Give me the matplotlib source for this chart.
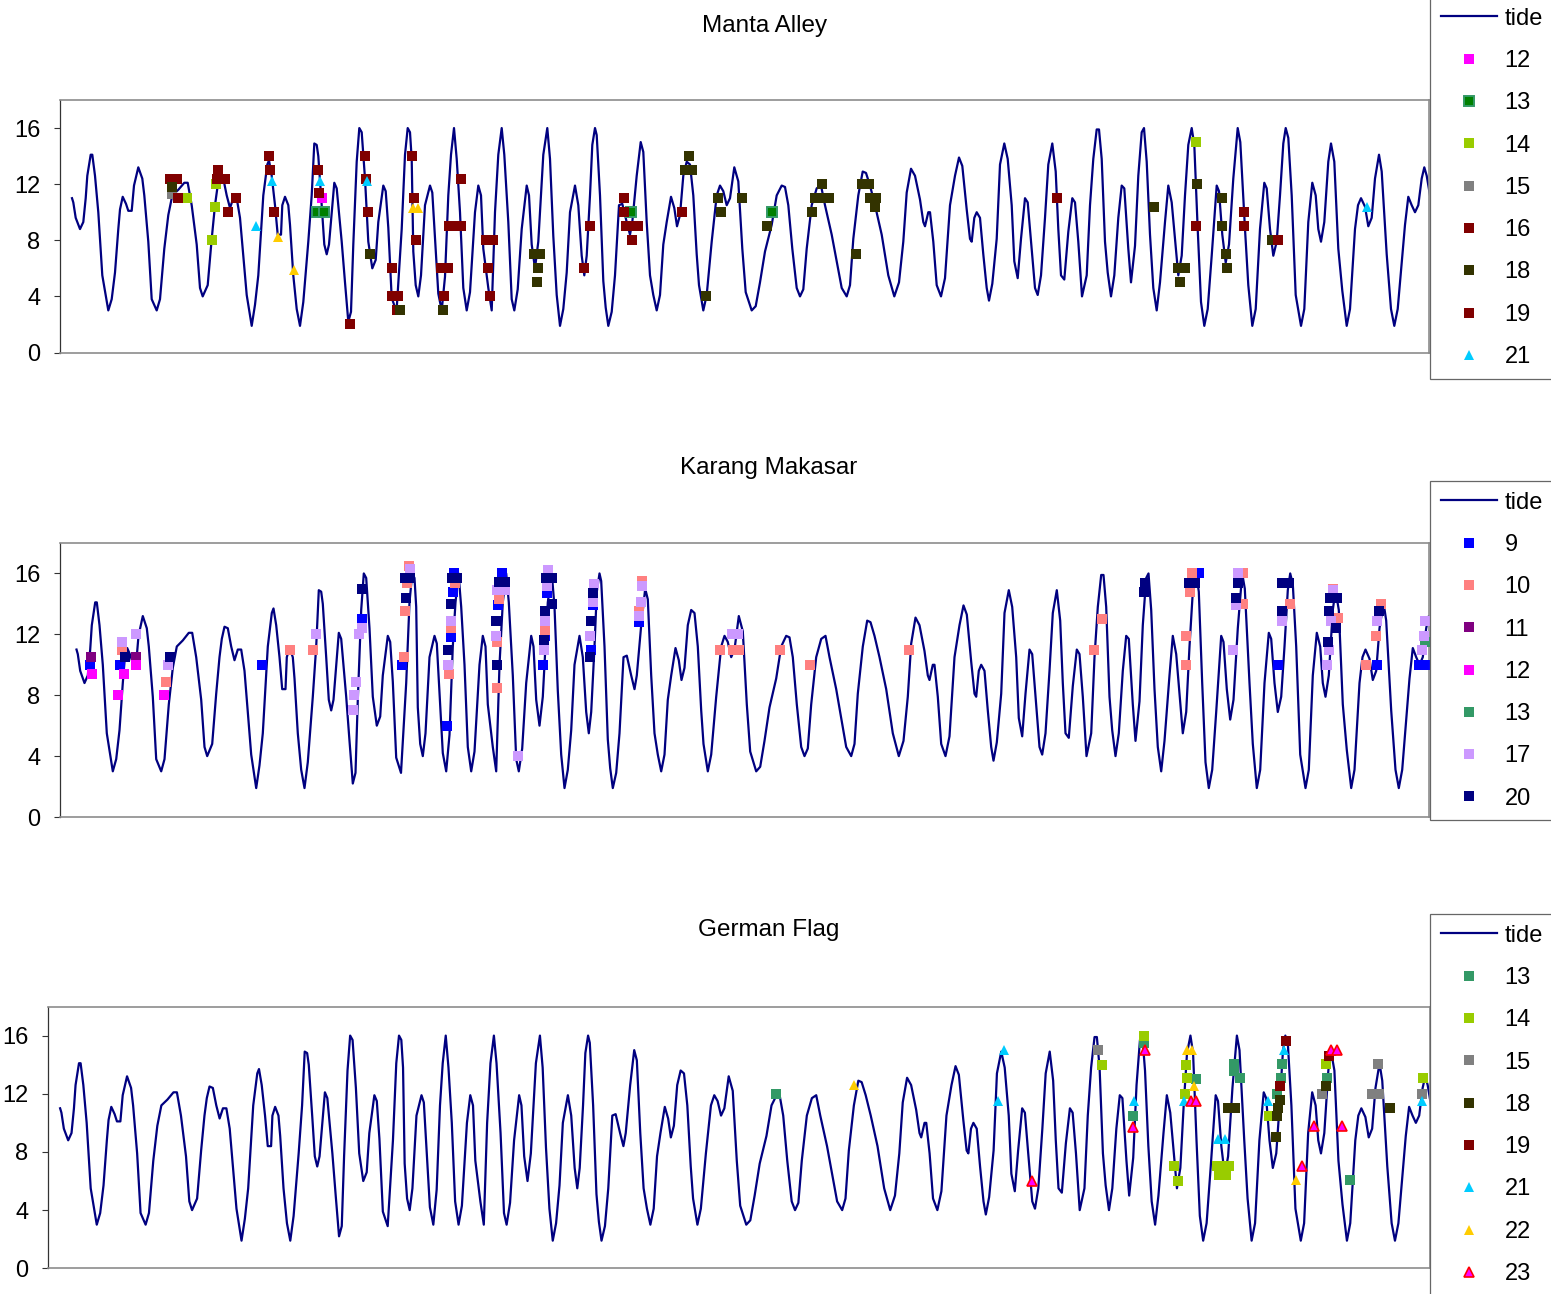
import numpy as np
import matplotlib.pyplot as plt

plt.rcParams['font.family'] = ['Liberation Sans', 'DejaVu Sans']

# tide curve (time step, level) - same record is used in all three panels
tide_t = [0, 1.3, 3.7, 8, 11.3, 13.7, 15.3, 18.7, 20.3, 23, 26.3, 30.3, 33.7, 36.3, 39.7, 43, 46.3, 48,
          50.7, 54, 56.3, 59.7, 62, 66.3, 70.3, 72.3, 76.3, 79.7, 84.7, 88, 92.3, 96.3, 100.3, 106.3,
          112.3, 115.7, 119.7, 124.7, 128, 130.7, 135.7, 139.7, 143, 145.3, 148, 151.3, 154.7, 158,
          161.3, 164.7, 168, 171.3, 174.7, 179.7, 183, 186.3, 191.3, 195.3, 197, 199.7, 203, 205.7,
          209, 210.3, 213, 216.3, 218, 221.3, 224.7, 228, 231.3, 236.3, 239.7, 242.3, 244.7, 246.3,
          249.7, 252.3, 254.7, 257, 259.7, 262.3, 264.7, 269.7, 273, 276.3, 279, 281.3, 284.7, 287.3,
          289.7, 293, 296.3, 300.3, 303.7, 306.3, 311.3, 313.7, 316.3, 319.7, 324.5, 329.7, 333,
          335.7, 338, 339.7, 341.3, 343.7, 346.3, 349, 353, 358, 360.3, 363, 366.3, 369.7, 373, 376.3,
          379, 382, 384.7, 388, 391.3, 394.7, 398, 403, 406.3, 409, 411.3, 416.3, 419.7, 423, 426.3,
          429.7, 432.3, 436.3, 439.7, 442.3, 445.7, 449.7, 454.7, 457, 459.7, 463, 466.3, 471.3,
          475.3, 478, 481.3, 484.7, 488, 491.3, 494.7, 498, 503, 506.3, 509.7, 512.3, 514.7, 518,
          520.3, 523, 524.7, 528, 531.3, 533.7, 536.3, 539.7, 543, 547, 550.3, 554.7, 558, 560.3,
          564.7, 568.7, 571.3, 574.7, 578, 581.3, 584.7, 588, 591.3, 594.7, 599, 602.3, 605, 608,
          611.3, 614.7, 618, 621.3, 624.7, 627, 631.3, 634.7, 639.7, 644.7, 648, 651.3, 654.7, 658,
          662.3, 666.3, 670.3, 673.7, 679.7, 683.7, 688, 693, 699.7, 704.7, 709.7, 713, 716.3, 720.3,
          724.7, 728, 731.3, 734.7, 739.7, 744.7, 749, 753, 759.7, 764.7, 769.7, 774.7, 778, 781.3,
          786.3, 790.7, 794, 798, 803, 809.7, 816.3, 822.3, 827, 831.3, 834.7, 839, 843, 848, 851.3,
          853, 856.3, 858, 861.3, 864.7, 869, 873, 878, 883, 887, 890.3, 894.7, 898, 899.7, 902.3,
          904.7, 908, 911.3, 914.7, 917, 920.3, 924.7, 928, 932.3, 935.7, 939.7, 942.3, 945.7, 949,
          953, 955.7, 959, 963, 965.7, 969, 973, 976.3, 980.3, 983.7, 986.3, 989, 992.3, 996.3,
          1000.3, 1003, 1006.3, 1010, 1014.7, 1018, 1021.3, 1024.7, 1027, 1029.7, 1033, 1035.7, 1039,
          1042.3, 1046.3, 1049.7, 1052.3, 1056.3, 1059, 1063, 1066.3, 1069.7, 1072, 1074.7, 1078,
          1081.3, 1084.7, 1088, 1093, 1096.3, 1099.7, 1103, 1106.3, 1109.7, 1113, 1116.3, 1119.7,
          1122.3, 1125.7, 1129, 1132.3, 1135.7, 1139.7, 1144.7, 1147, 1150.3, 1153.7, 1157, 1161.3,
          1165.7, 1168.3, 1173, 1176.3, 1180.3, 1183.7, 1188, 1192.3, 1194.7, 1198, 1201.3, 1204.7,
          1208, 1211.3, 1213.7, 1216.3, 1219.7, 1223.7, 1229, 1232.3, 1236.3, 1240.3, 1243.7, 1246.3,
          1249, 1252.3, 1256.3, 1259, 1262.3, 1266.3, 1270.3, 1274.7, 1278, 1283, 1286, 1289, 1293,
          1296.3, 1299.7, 1303, 1307, 1309.7, 1314.7, 1319, 1322.3, 1325.7, 1333, 1336.3, 1339.7,
          1343, 1346.3, 1349.7, 1352.3, 1354.7, 1358]
tide_level = [11.0, 10.7, 9.6, 8.8, 9.3, 11.0, 12.6, 14.1, 14.1, 12.6, 10.0, 5.5, 4.1, 3.0, 3.8, 5.7,
              8.8, 10.2, 11.1, 10.6, 10.1, 10.1, 11.9, 13.2, 12.4, 11.2, 7.9, 3.8, 3.0, 3.8, 7.4, 9.8,
              11.2, 11.6, 12.1, 12.1, 10.5, 7.7, 4.6, 4.0, 4.8, 8.1, 10.5, 11.7, 12.5, 12.4, 11.2,
              10.3, 11.0, 11.0, 9.6, 6.9, 4.1, 1.9, 3.4, 5.5, 11.2, 13.4, 13.7, 12.6, 10.5, 8.4, 8.4,
              10.5, 11.1, 10.5, 9.1, 5.5, 3.1, 1.9, 3.6, 7.9, 11.2, 14.9, 14.8, 14.0, 10.5, 7.7, 7.0,
              7.7, 9.9, 12.1, 11.7, 7.9, 5.0, 2.2, 2.9, 7.7, 13.6, 16.0, 15.7, 12.4, 7.9, 6.0, 6.6,
              9.3, 11.9, 11.5, 8.9, 3.9, 2.9, 8.8, 14.1, 16.0, 15.7, 13.8, 7.2, 4.8, 4.0, 5.5, 10.5,
              11.9, 11.4, 8.1, 4.2, 3.0, 5.4, 11.2, 14.1, 16.0, 13.8, 10.0, 4.6, 3.0, 4.3, 10.0, 11.9,
              11.2, 7.4, 4.6, 3.0, 10.0, 14.1, 16.0, 14.1, 9.3, 3.8, 3.0, 4.5, 8.8, 11.9, 11.2, 7.7,
              6.0, 7.9, 14.1, 16.0, 13.8, 8.3, 4.1, 1.9, 3.1, 5.7, 10.0, 11.9, 10.5, 6.9, 5.5, 6.9,
              11.2, 14.8, 16.0, 15.5, 11.2, 5.1, 3.2, 1.9, 2.9, 5.5, 10.5, 10.6, 9.3, 8.4, 9.3, 12.6,
              15.0, 14.3, 9.3, 5.5, 4.1, 3.0, 4.1, 7.7, 9.3, 11.1, 10.3, 9.0, 9.8, 12.6, 13.6, 13.4,
              11.2, 7.0, 4.8, 3.0, 4.1, 7.9, 11.2, 11.9, 11.5, 10.5, 11.0, 13.2, 12.2, 7.4, 4.3, 3.0,
              3.3, 5.0, 7.2, 9.1, 11.2, 11.9, 11.8, 10.5, 7.4, 4.6, 4.0, 4.5, 7.4, 10.5, 11.7, 11.9,
              10.5, 8.4, 6.5, 4.6, 4.0, 4.8, 8.1, 11.2, 12.9, 12.8, 11.9, 10.5, 8.4, 5.5, 4.0, 5.0,
              7.9, 11.4, 13.1, 12.6, 10.9, 9.3, 9.0, 10.0, 10.0, 7.9, 4.8, 4.0, 5.3, 10.5, 12.6, 13.9,
              13.3, 10.2, 8.1, 7.9, 9.6, 10.0, 9.6, 7.0, 4.6, 3.7, 4.9, 8.1, 13.4, 14.9, 13.8, 10.5,
              6.5, 5.3, 8.1, 11.0, 10.7, 7.9, 4.6, 4.1, 5.5, 9.6, 13.4, 14.9, 12.9, 8.8, 5.5, 5.2, 8.6,
              11.0, 10.7, 7.9, 4.0, 5.5, 10.5, 13.8, 15.9, 15.9, 13.8, 7.9, 5.7, 4.0, 5.5, 9.6, 11.9,
              11.7, 7.4, 5.0, 7.6, 12.6, 15.7, 16.0, 13.6, 8.4, 4.6, 3.0, 5.0, 9.3, 11.9, 10.7, 8.1,
              5.5, 6.9, 11.2, 14.8, 16.0, 14.8, 8.8, 3.6, 1.9, 3.1, 6.9, 11.9, 11.5, 8.4, 6.4, 7.7,
              12.4, 16.0, 15.0, 8.8, 4.8, 1.9, 3.1, 8.8, 12.1, 11.7, 8.8, 6.9, 7.9, 11.2, 14.9, 16.0,
              15.3, 11.2, 4.1, 1.9, 3.1, 9.3, 12.1, 11.2, 8.8, 7.9, 9.3, 13.6, 14.9, 13.6, 7.4, 4.4,
              1.9, 3.1, 8.8, 10.5, 11.0, 10.4, 9.0, 9.6, 12.4, 14.1, 12.9, 7.0, 3.1, 1.9, 3.1, 9.1,
              11.1, 10.5, 10.0, 10.5, 12.4, 13.2, 12.6, 11.2]

# ---- Manta Alley sightings (time step, value) ----
ma_12_t = [249.7]
ma_12_v = [11.0]
ma_13_t = [245.3, 252.3, 558.7, 699.7]
ma_13_v = [10, 10, 10, 10]
ma_14_t = [114.7, 144, 143, 139.7, 1124]
ma_14_v = [11, 12, 10.4, 8, 15]
ma_15_t = [99.7]
ma_15_v = [11.3]
ma_16_t = [98, 104.7, 106.3, 145.7, 144.7, 153, 164, 156.3, 197, 198, 202, 245.7, 247.3, 278,
           293, 294, 296.3, 319.7, 320, 326.3, 324.7, 339.7, 342, 344]
ma_16_v = [12.4, 12.4, 11, 13, 12.4, 12.4, 11, 10, 14, 13, 10, 13, 11.4, 2,
           14, 12.4, 10, 6, 4, 4, 3, 14, 11, 8]
ma_18_t = [99.7, 298, 328, 371.3, 462, 468, 465.7, 464.7, 617.3, 613, 620, 633.7, 646.3, 649,
           669.7, 694.7, 749.7, 743, 750, 757, 739.7, 784, 790, 797, 798, 804, 803, 1082, 1124.7,
           1106, 1113, 1108, 1149.7, 1149.7, 1154, 1154.7, 1199.7]
ma_18_v = [11.8, 7, 3, 3, 7, 7, 6, 5, 14, 13, 13, 4, 11, 10,
           11, 9, 12, 11, 11, 11, 10, 7, 12, 12, 11, 11, 10.4, 10.4, 12,
           6, 6, 5, 11, 9, 7, 6, 8]
ma_19_t = [372.3, 368.5, 376, 377, 383, 389, 389, 414, 421, 416.3, 418, 518, 512, 552, 552, 554,
           560, 566, 560, 610.3, 984.7, 1124, 1172, 1172, 1205.7]
ma_19_v = [4, 6, 6, 9, 9, 9, 12.4, 8, 8, 6, 4, 9, 6, 11, 10, 9,
           9, 9, 8, 10, 11, 9, 10, 9, 8]
ma_21_t = [184, 199.7, 248, 294.7, 1294.7]
ma_21_v = [9, 12.2, 12.2, 12.2, 10.4]
ma_22_t = [205.7, 221.7, 341, 346]
ma_22_v = [8.2, 5.9, 10.3, 10.3]

# ---- Karang Makasar sightings ----
km_9_t = [13.5, 43.5, 185.2, 285.2, 325.2, 377.8, 376.8, 374.5, 370.2, 425.8, 421.8, 470.2, 468.5,
          466.8, 516.8, 514.5, 562.5, 1122.5, 1201.2, 1300.2, 1342.5, 1348.5]
km_9_v = [10, 10, 10, 13, 10, 16, 14.8, 11.85, 6, 16, 13.9, 14.7, 11.9,
          10, 13.9, 11, 12.8, 16, 10, 10, 10, 10]
km_10_t = [45.8, 89.5, 213.5, 236.8, 332.5, 330.2, 328.5, 327.8, 378.5, 374.5, 372.5, 422.5, 420.2,
           420.2, 468.5, 565.8, 562.5, 643.5, 656.5, 662.5, 703.5, 733.5, 832.5, 1017.5, 1025.2,
           1115.2, 1113.5, 1109.5, 1109.5, 1166.8, 1166.8, 1213.5, 1256.5, 1261.8, 1304.5, 1299.5,
           1289.2]
km_10_v = [11, 8.9, 11, 11, 16.5, 15.4, 13.5, 10.5, 15.4, 12.4, 9.4, 14.3, 11.5,
           8.5, 12.3, 15.5, 13.5, 11, 11, 11, 11, 10, 11, 11, 13,
           16, 14.8, 11.9, 10, 16, 14, 14, 15, 13.05, 14, 11.9, 10]
km_11_t = [14.5, 59.5]
km_11_v = [10.5, 10.5]
km_12_t = [15.2, 41.2, 47.5, 59.5, 87.5]
km_12_v = [9.4, 8, 9.4, 10, 8]
km_13_t = [1348.5]
km_13_v = [11.5]
km_17_t = [45.2, 59.5, 91.8, 239.5, 282.5, 285.2, 279.5, 277.8, 276.2, 333.5, 374.5, 371.8, 420.5,
           428.5, 419.5, 441.2, 471.8, 470.2, 468.5, 467.8, 517.8, 516.8, 513.5, 565.8, 564.5, 562.5,
           655.5, 661.5, 1161.2, 1159.5, 1156.8, 1205.2, 1256.8, 1254.5, 1252.5, 1250.8, 1300.2,
           1348.5, 1347.8, 1345.2]
km_17_v = [11.5, 12, 10, 12, 12, 12.4, 8.9, 8, 7, 16.3, 12.9, 10, 14.9,
           14.9, 11.9, 4, 16.25, 15.2, 12.9, 11, 15.3, 14.1, 11.9, 15.2, 14.1, 13.2,
           12, 12, 16, 13.9, 11, 12.9, 14.9, 12.9, 11, 10, 12.9,
           12.9, 11.9, 11]
km_20_t = [48.5, 93.5, 285.8, 328.5, 333.5, 329.2, 375.5, 380.5, 374.5, 371.8, 422.5, 428.5, 419.5,
           420.2, 469.5, 475.5, 475.2, 468.5, 467.8, 516.8, 514.5, 513.5, 1068.5, 1067.8, 1112.5,
           1118.5, 1161.2, 1159.5, 1205.5, 1212.5, 1205.2, 1253.5, 1260.5, 1252.8, 1259.5, 1251.8,
           1302.5]
km_20_v = [10.5, 10.5, 15, 15.7, 15.7, 14.4, 15.7, 15.7, 14, 11, 15.45, 15.45, 12.9,
           10, 15.7, 15.7, 14, 13.5, 11.6, 14.7, 12.9, 10.5, 15.4, 14.8, 15.4,
           15.4, 15.4, 14.4, 15.4, 15.4, 13.5, 14.4, 14.4, 13.5, 12.4, 11.5,
           13.5]

# ---- German Flag sightings ----
gf_13_t = [709, 1073.7, 1063.1, 1125.2, 1162.9, 1162.9, 1168.8, 1205.1, 1209.1, 1210.7, 1255.3, 1277.8]
gf_13_v = [12.0, 15.5, 10.5, 13, 14.05, 13.56, 13.06, 11.95, 13.05, 14.05, 13.1, 6.05]
gf_14_t = [1031.8, 1073.7, 1103.4, 1107.7, 1115.3, 1116, 1114.3, 1146, 1152, 1157.9, 1148, 1154.9,
           1197.2, 1254, 1350.4]
gf_14_v = [14, 16, 7, 6, 14, 13.05, 12, 7, 7, 7, 6.4, 6.4, 10.5, 14.05, 13.05]
gf_15_t = [1027.8, 1250.3, 1305.8, 1299.5, 1306.5, 1349.4]
gf_15_v = [15, 11.95, 14.05, 11.95, 11.95, 11.95]
gf_18_t = [1156.9, 1163.9, 1204.5, 1205.7, 1206.7, 1208.4, 1254, 1317.4]
gf_18_v = [11, 11, 9, 10.5, 11, 11.6, 12.5, 11]
gf_19_t = [1208.4, 1214.3, 1257]
gf_19_v = [12.5, 15.6, 14.6]
gf_21_t = [928.8, 935.3, 1063.8, 1113.3, 1147, 1153.9, 1196.2, 1212.4, 1349.4]
gf_21_v = [11.5, 15, 11.5, 11.5, 8.9, 8.9, 11.5, 15, 11.5]
gf_22_t = [786.4, 1116.3, 1121.2, 1123.5, 1224.3]
gf_22_v = [12.6, 15, 15, 12.5, 6.05]
gf_23_t = [962.5, 1063.1, 1074.7, 1120.2, 1125.2, 1230.2, 1242.1, 1258.9, 1264.9, 1269.5]
gf_23_v = [6, 9.7, 15, 11.5, 11.5, 7, 9.77, 15, 15, 9.77]

# marker look for each series (Excel palette)
sq = dict(marker='s', ms=6.5, mew=0)
tri = dict(marker='^', ms=7.5, mew=0)
styles = {
    '9': dict(sq, color='#0000FF'),
    '10': dict(sq, color='#FF8080'),
    '11': dict(sq, color='#800080'),
    '12': dict(sq, color='#FF00FF'),
    '13': dict(sq, color='#339966'),
    '13b': dict(marker='s', ms=6.5, mew=1.4, mfc='#008000', mec='#339966'),
    '14': dict(sq, color='#99CC00'),
    '15': dict(sq, color='#808080'),
    '16': dict(sq, color='#800000'),
    '17': dict(sq, color='#CC99FF'),
    '18': dict(sq, color='#333300'),
    '19': dict(sq, color='#800000'),
    '20': dict(sq, color='#000080'),
    '21': dict(tri, color='#00CCFF'),
    '22': dict(tri, color='#FFCC00'),
    '23': dict(marker='^', ms=7.5, mew=1.2, mfc='#FF00FF', mec='#FF0000'),
}

W, H = 1551, 1294
fig = plt.figure(figsize=(W / 100, H / 100), dpi=100)


def panel(rect, xlim, title, title_xy, series, legend_top):
    # rect in pixels: left, top, right, bottom
    l, t, r, b = rect
    ax = fig.add_axes([l / W, 1 - b / H, (r - l) / W, (b - t) / H])
    ax.plot(tide_t, tide_level, color='#000080', lw=1.6, label='tide', zorder=2)
    for name, key, xs, ys, show in series:
        ax.plot(xs, ys, linestyle='none', label=name if show else '_nolegend_', zorder=3,
                **styles[key])
    ax.set_xlim(xlim)
    ax.set_ylim(0, 18)
    ax.set_yticks([0, 4, 8, 12, 16])
    ax.set_xticks([])
    ax.tick_params(axis='y', direction='out', length=4, width=0.8, color='#333333',
                   labelsize=17, pad=10)
    for s in ['top', 'right', 'bottom']:
        ax.spines[s].set_color('#8c8c8c')
        ax.spines[s].set_linewidth(1.2)
    ax.spines['left'].set_color('#333333')
    ax.spines['left'].set_linewidth(0.9)
    fig.text(title_xy[0] / W, 1 - title_xy[1] / H, title, ha='center', va='center', fontsize=17.5)
    leg = ax.legend(loc='upper left', bbox_to_anchor=(1430 / W, 1 - legend_top / H),
                    bbox_transform=fig.transFigure, borderaxespad=0, fontsize=17,
                    borderpad=0.45, labelspacing=0.86, handlelength=2.4, handletextpad=0.3,
                    fancybox=False, framealpha=1, edgecolor='#666666')
    leg.get_frame().set_linewidth(0.9)
    return ax


panel((60, 100, 1429, 352.5), (-12, 1357), 'Manta Alley', (765, 26), [
    ('12', '12', ma_12_t, ma_12_v, True),
    ('13', '13b', ma_13_t, ma_13_v, True),
    ('14', '14', ma_14_t, ma_14_v, True),
    ('15', '15', ma_15_t, ma_15_v, True),
    ('16', '16', ma_16_t, ma_16_v, True),
    ('18', '18', ma_18_t, ma_18_v, True),
    ('19', '19', ma_19_t, ma_19_v, True),
    ('21', '21', ma_21_t, ma_21_v, True),
    ('22', '22', ma_22_t, ma_22_v, False),
], -3)

panel((60, 543, 1429, 817), (-16.5, 1352.5), 'Karang Makasar', (769, 468), [
    ('9', '9', km_9_t, km_9_v, True),
    ('10', '10', km_10_t, km_10_v, True),
    ('11', '11', km_11_t, km_11_v, True),
    ('12', '12', km_12_t, km_12_v, True),
    ('13', '13', km_13_t, km_13_v, True),
    ('17', '17', km_17_t, km_17_v, True),
    ('20', '20', km_20_t, km_20_v, True),
], 481)

panel((48, 1006.5, 1430, 1268.3), (-12, 1357), 'German Flag', (769, 930), [
    ('13', '13', gf_13_t, gf_13_v, True),
    ('14', '14', gf_14_t, gf_14_v, True),
    ('15', '15', gf_15_t, gf_15_v, True),
    ('18', '18', gf_18_t, gf_18_v, True),
    ('19', '19', gf_19_t, gf_19_v, True),
    ('21', '21', gf_21_t, gf_21_v, True),
    ('22', '22', gf_22_t, gf_22_v, True),
    ('23', '23', gf_23_t, gf_23_v, True),
], 914)

fig.savefig('out.png', dpi=100)
